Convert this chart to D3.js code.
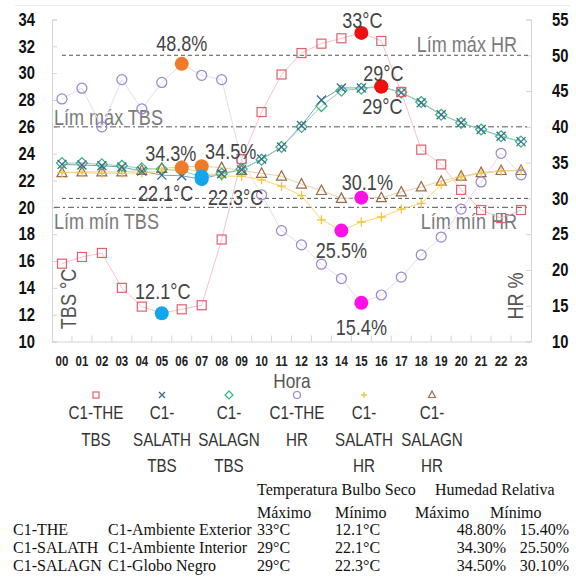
<!DOCTYPE html>
<html>
<head>
<meta charset="utf-8">
<script src="https://cdn.jsdelivr.net/npm/d3@7/dist/d3.min.js"></script>
<style>
  html, body { margin: 0; padding: 0; background: #fff; }
  svg { display: block; }
  .narrow { font-family: "Liberation Sans", Arial, sans-serif; }
  .serif { font-family: "Liberation Serif", "Times New Roman", serif; }
</style>
</head>
<body>
<svg id="chart" width="576" height="581"></svg>
<script>
// ---------- DATA ----------
const hours = ["00","01","02","03","04","05","06","07","08","09","10","11","12","13","14","15","16","17","18","19","20","21","22","23"];
const tbsTicks = [10,12,14,16,18,20,22,24,26,28,30,32,34];
const hrTicks = [10,15,20,25,30,35,40,45,50,55];

const theTBS    = [15.8,16.3,16.6,14.0,12.6,12.1,12.4,12.7,17.6,23.6,27.1,29.9,31.5,32.2,32.6,33.0,32.4,28.6,24.3,23.2,21.3,19.8,19.2,19.8];
const salathTBS = [23.2,23.15,23.1,23.0,22.7,22.4,22.35,22.1,22.5,22.8,23.6,24.5,26.1,28.0,28.9,28.9,29.0,28.55,27.8,26.9,26.3,25.8,25.3,24.9];
const salagnTBS = [23.3,23.3,23.2,23.1,22.9,22.85,22.7,22.3,22.5,22.85,23.55,24.5,26.0,27.55,28.7,28.85,29.0,28.55,27.85,26.9,26.3,25.8,25.3,24.9];
const theHR     = [43.9,45.4,40.0,46.6,42.5,46.2,48.8,47.2,46.6,35.4,30.5,25.5,23.5,20.8,18.8,15.4,16.5,19.0,22.1,24.6,28.5,32.3,36.3,33.3];
const salathHR  = [33.6,33.6,33.5,33.5,33.6,33.8,34.3,33.6,33.1,33.1,32.6,31.7,30.4,27.0,25.5,26.7,27.4,28.5,29.3,31.9,33.0,33.5,33.8,33.9];
const salagnHR  = [33.6,33.7,33.7,33.7,33.9,34.2,34.4,34.5,34.3,33.9,33.5,33.1,32.0,31.1,30.0,30.1,30.1,30.9,31.6,32.4,33.1,33.6,33.9,33.9];

const seriesNames = [["C1-THE","TBS"],["C1-","SALATH","TBS"],["C1-","SALAGN","TBS"],["C1-THE","HR"],["C1-","SALATH","HR"],["C1-","SALAGN","HR"]];

// reference limits
const limTBS = [26, 20];
const limHR = [50, 30];
const limLabels = ["Lím máx TBS","Lím mín TBS","Lím máx HR","Lím mín HR"];

// highlighted extremes: [hourIndex, value, axis, label]
const hlMax = [[6,48.8,"hr","48.8%"],[6,34.3,"hr","34.3%"],[7,34.5,"hr","34.5%"]];
const hlMinT = [[5,12.1,"t","12.1°C"],[7,22.1,"t","22.1°C"],[7,22.3,"t","22.3°C"]];
const hlMaxT = [[15,33,"t","33°C"],[16,29,"t","29°C"],[16,29,"t","29°C"]];
const hlMinH = [[15,15.4,"hr","15.4%"],[14,25.5,"hr","25.5%"],[15,30.1,"hr","30.1%"]];

// table
const tableHead1 = ["Temperatura Bulbo Seco","Humedad Relativa"];
const tableHead2 = ["Máximo","Mínimo","Máximo","Mínimo"];
const tableRows = [
  ["C1-THE","C1-Ambiente Exterior","33°C","12.1°C","48.80%","15.40%"],
  ["C1-SALATH","C1-Ambiente Interior","29°C","22.1°C","34.30%","25.50%"],
  ["C1-SALAGN","C1-Globo Negro","29°C","22.3°C","34.50%","30.10%"]
];

// ---------- DRAW ----------
const svg = d3.select("#chart");
const L = 52, R = 531, T = 19.5, B = 341.5;
const x = d3.scaleBand().domain(hours).range([L, R]);
const cx = i => x(hours[i]) + x.bandwidth() / 2;
const yT = d3.scaleLinear().domain([10, 34]).range([B, T]);
const yH = d3.scaleLinear().domain([10, 55]).range([B, T]);
const axisCol = "#d4d4d4";

// faint frame top line
svg.append("line").attr("x1", 15).attr("x2", 570).attr("y1", 5.5).attr("y2", 5.5)
  .attr("stroke", "#ececec").attr("stroke-width", 1);

// left axis
const gL = svg.append("g").attr("transform", `translate(${L},0)`)
  .call(d3.axisLeft(yT).tickValues(tbsTicks).tickSize(-5).tickPadding(17).tickFormat(d3.format("d")));
gL.select(".domain").attr("stroke", axisCol);
gL.selectAll(".tick line").attr("stroke", axisCol);
gL.selectAll("text").attr("class", "narrow").attr("font-size", 18).attr("font-weight", "bold").attr("fill", "#111");

// right axis
const gR = svg.append("g").attr("transform", `translate(${R},0)`)
  .call(d3.axisRight(yH).tickValues(hrTicks).tickSize(-5).tickPadding(21).tickFormat(d3.format("d")));
gR.select(".domain").attr("stroke", axisCol);
gR.selectAll(".tick line").attr("stroke", axisCol);
gR.selectAll("text").attr("class", "narrow").attr("font-size", 18).attr("font-weight", "bold").attr("fill", "#111");

// bottom axis
const gB = svg.append("g").attr("transform", `translate(0,${B})`)
  .call(d3.axisBottom(x).tickSize(0).tickPadding(15));
gB.select(".domain").attr("stroke", axisCol);
gB.selectAll("text").attr("class", "narrow").attr("font-size", 14).attr("font-weight", "bold").attr("fill", "#222");
gB.selectAll(".btick").data(hours.slice(1)).enter().append("line")
  .attr("x1", d => x(d)).attr("x2", d => x(d)).attr("y1", 0).attr("y2", -6)
  .attr("stroke", axisCol);

// reference lines
const limCol = "#555";
limTBS.forEach(v => {
  svg.append("line").attr("x1", L + 2).attr("x2", R - 2).attr("y1", yT(v)).attr("y2", yT(v))
    .attr("stroke", limCol).attr("stroke-width", 1).attr("stroke-dasharray", "6,3,2,3");
});
limHR.forEach(v => {
  svg.append("line").attr("x1", L + 10).attr("x2", R - 2).attr("y1", yH(v)).attr("y2", yH(v))
    .attr("stroke", limCol).attr("stroke-width", 1).attr("stroke-dasharray", "4,3");
});
const limTxt = (t, xx, yy, anchor) => svg.append("text").attr("class", "narrow")
  .attr("x", xx).attr("y", yy).attr("text-anchor", anchor).attr("font-size", 22)
  .attr("fill", "#7a7a7a").text(t);
limTxt(limLabels[0], L + 2, yT(limTBS[0]) - 2, "start");
limTxt(limLabels[1], L + 2, yT(limTBS[1]) + 22, "start");
limTxt(limLabels[2], R - 14, yH(limHR[0]) - 3, "end");
limTxt(limLabels[3], R - 14, yT(limTBS[1]) + 22, "end");

// series
const line = (arr, sc) => d3.line().x((d, i) => cx(i)).y(d => sc(d))(arr);
const series = [
  {data: theTBS, sc: yT, line: "#f6c3c9", col: "#e4606e", sym: "square"},
  {data: salathTBS, sc: yT, line: "#7f9fb5", col: "#3a6b8e", sym: "x"},
  {data: salagnTBS, sc: yT, line: "#8ed6b4", col: "#34b27a", sym: "diamond"},
  {data: theHR, sc: yH, line: "#e6dcf2", col: "#9a84cf", sym: "circle"},
  {data: salathHR, sc: yH, line: "#f7d774", col: "#f3c33c", sym: "plus"},
  {data: salagnHR, sc: yH, line: "#ecd0a8", col: "#9a6a48", sym: "triangle"}
];
function marker(g, sym, col, px, py, s) {
  if (sym === "square") {
    g.append("rect").attr("x", px - s).attr("y", py - s).attr("width", 2 * s).attr("height", 2 * s)
      .attr("fill", "none").attr("stroke", col).attr("stroke-width", 1.2);
  } else if (sym === "circle") {
    g.append("circle").attr("cx", px).attr("cy", py).attr("r", s + 0.5)
      .attr("fill", "none").attr("stroke", col).attr("stroke-width", 1.2);
  } else if (sym === "diamond") {
    g.append("path").attr("d", `M${px},${py - s - 1}L${px + s + 1},${py}L${px},${py + s + 1}L${px - s - 1},${py}Z`)
      .attr("fill", "none").attr("stroke", col).attr("stroke-width", 1.2);
  } else if (sym === "triangle") {
    g.append("path").attr("d", `M${px},${py - s - 1}L${px + s + 0.5},${py + s - 0.5}L${px - s - 0.5},${py + s - 0.5}Z`)
      .attr("fill", "none").attr("stroke", col).attr("stroke-width", 1.2);
  } else if (sym === "x") {
    g.append("path").attr("d", `M${px - s},${py - s}L${px + s},${py + s}M${px - s},${py + s}L${px + s},${py - s}`)
      .attr("stroke", col).attr("stroke-width", 1.3);
  } else if (sym === "plus") {
    g.append("path").attr("d", `M${px - s},${py}L${px + s},${py}M${px},${py - s}L${px},${py + s}`)
      .attr("stroke", col).attr("stroke-width", 1.3);
  }
}
const gS = svg.append("g");
series.forEach(s => {
  gS.append("path").attr("d", line(s.data, s.sc)).attr("fill", "none")
    .attr("stroke", s.line).attr("stroke-width", 1);
});
[5, 4, 3, 2, 1, 0].forEach(k => {
  const s = series[k];
  const g = gS.append("g");
  s.data.forEach((d, i) => marker(g, s.sym, s.col, cx(i), s.sc(d), 4.5));
});

// highlighted extremes
const gH = svg.append("g");
const dot = (arr, col) => arr.forEach(p => {
  const sc = p[2] === "t" ? yT : yH;
  gH.append("circle").attr("cx", cx(p[0])).attr("cy", sc(p[1])).attr("r", 7).attr("fill", col);
});
dot(hlMax, "#f07a28");
dot(hlMinT, "#12a6ee");
dot(hlMaxT, "#f01010");
dot(hlMinH, "#ff10e8");

// annotation labels
const ann = (p, dx, dy) => {
  const sc = p[2] === "t" ? yT : yH;
  svg.append("text").attr("class", "narrow").attr("x", cx(p[0]) + dx).attr("y", sc(p[1]) + dy)
    .attr("text-anchor", "middle").attr("font-size", 22).attr("fill", "#444").text(p[3]);
};
ann(hlMax[0], 0, -13);
ann(hlMax[1], -11, -7);
ann(hlMax[2], 29, -7);
ann(hlMinT[0], 1, -14);
ann(hlMinT[1], -36, 22);
ann(hlMinT[2], 34, 29);
ann(hlMaxT[0], 1, -5);
ann(hlMaxT[1], 2, -6);
ann(hlMaxT[2], 1, 27);
ann(hlMinH[0], 0, 32);
ann(hlMinH[1], 0, 27);
ann(hlMinH[2], 6, -8);

// axis titles
svg.append("text").attr("class", "narrow").attr("transform", `translate(75.5,299) rotate(-90)`)
  .attr("text-anchor", "middle").attr("font-size", 22).attr("fill", "#555").text("TBS °C");
svg.append("text").attr("class", "narrow").attr("transform", `translate(523,296) rotate(-90)`)
  .attr("text-anchor", "middle").attr("font-size", 22).attr("fill", "#555").text("HR %");
svg.append("text").attr("class", "narrow").attr("x", 292).attr("y", 388)
  .attr("text-anchor", "middle").attr("font-size", 21).attr("fill", "#555").text("Hora");

// legend
const legX = [96, 162, 229, 297, 364, 432];
series.forEach((s, k) => {
  const g = svg.append("g");
  marker(g, s.sym, s.col, legX[k], 395, 3);
  seriesNames[k].forEach((t, j) => {
    g.append("text").attr("class", "narrow").attr("x", legX[k]).attr("y", 419 + j * 26.5)
      .attr("text-anchor", "middle").attr("font-size", 18.5).attr("fill", "#333").text(t);
  });
});

// condense sans texts (narrow face)
svg.selectAll("text.narrow").each(function () {
  const len = this.getComputedTextLength();
  d3.select(this).attr("textLength", len * 0.82).attr("lengthAdjust", "spacingAndGlyphs");
});

// table
const tb = svg.append("g").attr("class", "serif").attr("font-size", 16).attr("fill", "#111");
tb.append("text").attr("x", 257).attr("y", 495).text(tableHead1[0]);
tb.append("text").attr("x", 435).attr("y", 495).text(tableHead1[1]);
const h2x = [257, 335, 415, 490];
tableHead2.forEach((t, i) => tb.append("text").attr("x", h2x[i]).attr("y", 518).text(t));
const colX = [13, 108, 257, 335, 506, 569];
tableRows.forEach((row, r) => {
  row.forEach((t, c) => {
    tb.append("text").attr("x", colX[c]).attr("y", 535 + r * 18)
      .attr("text-anchor", c >= 4 ? "end" : "start").text(t);
  });
});
</script>
</body>
</html>
